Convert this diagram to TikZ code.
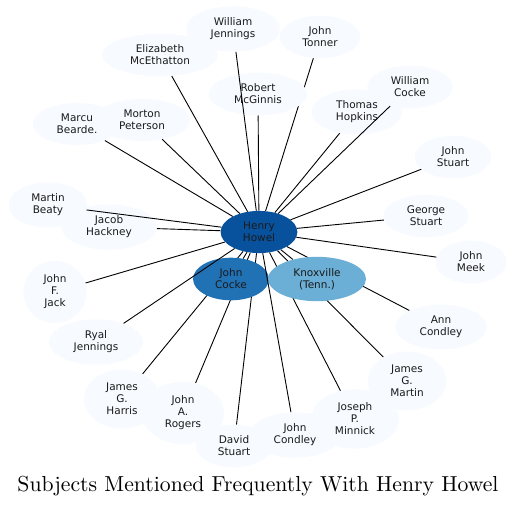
\documentclass[tikz,border=0pt]{standalone}
\usepackage{fontspec}
\setsansfont{DejaVu Sans}
\usetikzlibrary{shapes.geometric,backgrounds}
\definecolor{hub}{HTML}{08519C}
\definecolor{mid}{HTML}{2171B5}
\definecolor{lite}{HTML}{6BAED6}
\definecolor{pale}{HTML}{F7FBFF}
\definecolor{ink}{HTML}{1A1A1A}

\begin{document}
\begin{tikzpicture}[x=1pt,y=-1pt,
  subj/.style={ellipse,fill=pale,inner xsep=11pt,inner ysep=5pt,align=center,text=ink,
    font=\sffamily\fontsize{10.5}{12}\selectfont},
  link/.style={draw=black,line width=0.9pt}]
  \useasboundingbox (0,0) rectangle (516,508);
  % people and places round the hub
  \node[subj] (wjenn) at (233,29) {William\\Jennings};
  \node[subj] (tonner) at (320,37) {John\\Tonner};
  \node[subj] (emce) at (160,55) {Elizabeth\\McEthatton};
  \node[subj] (mcginnis) at (258,94) {Robert\\McGinnis};
  \node[subj] (wcocke) at (410,87) {William\\Cocke};
  \node[subj] (hopkins) at (357,112) {Thomas\\Hopkins};
  \node[subj] (marcu) at (77,124) {Marcu\\Bearde.};
  \node[subj] (morton) at (142,120) {Morton\\Peterson};
  \node[subj] (jstuart) at (453,157) {John\\Stuart};
  \node[subj] (beaty) at (48,205) {Martin\\Beaty};
  \node[subj] (gstuart) at (426,216) {George\\Stuart};
  \node[subj] (hackney) at (109,227) {Jacob\\Hackney};
  \node[subj] (meek) at (471,262) {John\\Meek};
  \node[subj] (jack) at (55,292) {John\\F.\\Jack};
  \node[subj] (annc) at (441,327) {Ann\\Condley};
  \node[subj] (ryal) at (96,342) {Ryal\\Jennings};
  \node[subj] (jgmartin) at (407,381) {James\\G.\\Martin};
  \node[subj] (harris) at (122,399) {James\\G.\\Harris};
  \node[subj] (rogers) at (183,413) {John\\A.\\Rogers};
  \node[subj] (jcondley) at (295,435) {John\\Condley};
  \node[subj] (minnick) at (355,419) {Joseph\\P.\\Minnick};
  \node[subj] (dstuart) at (234,446) {David\\Stuart};
  % the three strongest
  \node[subj,fill=mid] (jcocke) at (231,279) {John\\Cocke};
  \node[subj,fill=lite] (knox) at (317,279) {Knoxville\\(Tenn.)};
  \node[subj,fill=hub] (hh) at (259,232) {Henry\\Howel};
  \foreach \t in {wjenn,emce,mcginnis,wcocke,hopkins,marcu,morton,jstuart,beaty,
    gstuart,hackney,meek,jack,ryal,jcondley}
    \draw[link] (hh) -- (\t);
  \begin{pgfonlayer}{background}
    \foreach \t in {tonner,annc,jgmartin,harris,rogers,minnick,dstuart,jcocke,knox}
      \draw[link] (hh) -- (\t);
  \end{pgfonlayer}
  \node (title) at (258,486)
    {\scalebox{2.17}{\fontsize{10}{12}\selectfont Subjects Mentioned Frequently With Henry Howel}};
\end{tikzpicture}
\end{document}
